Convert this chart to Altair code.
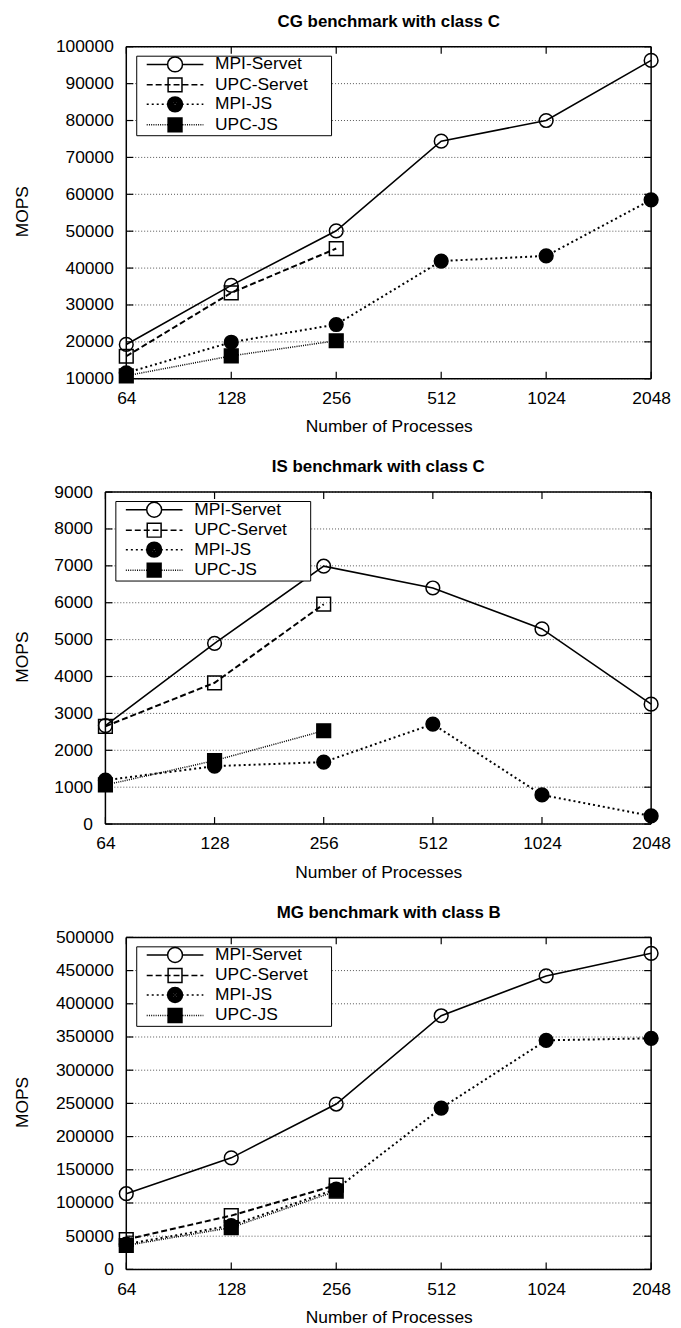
import altair as alt
import pandas as pd

PROCS = [64, 128, 256, 512, 1024, 2048]
SERIES = ["MPI-Servet", "UPC-Servet", "MPI-JS", "UPC-JS"]

# CG benchmark with class C
CG_MPI_SERVET = [19300, 35300, 50100, 74400, 80000, 96300]
CG_UPC_SERVET = [16100, 33300, 45300]
CG_MPI_JS = [11600, 19900, 24700, 41900, 43300, 58500]
CG_UPC_JS = [10800, 16200, 20300]
CG_YTICKS = [10000, 20000, 30000, 40000, 50000, 60000, 70000, 80000, 90000, 100000]

# IS benchmark with class C
IS_MPI_SERVET = [2670, 4900, 6990, 6400, 5290, 3250]
IS_UPC_SERVET = [2650, 3830, 5960]
IS_MPI_JS = [1190, 1570, 1680, 2710, 790, 220]
IS_UPC_JS = [1060, 1720, 2530]
IS_YTICKS = [0, 1000, 2000, 3000, 4000, 5000, 6000, 7000, 8000, 9000]

# MG benchmark with class B
MG_MPI_SERVET = [114000, 168000, 249000, 382000, 442000, 476000]
MG_UPC_SERVET = [45000, 81000, 127000]
MG_MPI_JS = [38000, 66000, 121000, 243000, 345000, 348000]
MG_UPC_JS = [36000, 63000, 118000]
MG_YTICKS = [0, 50000, 100000, 150000, 200000, 250000, 300000, 350000, 400000, 450000, 500000]

FONT = "Liberation Sans"
FS = 17.5
H = 334
W = 528

LINE_STYLE = {
    "MPI-Servet": dict(strokeWidth=1.6),
    "UPC-Servet": dict(strokeWidth=2, strokeDash=[6, 3]),
    "MPI-JS": dict(strokeWidth=2, strokeDash=[2, 3]),
    "UPC-JS": dict(strokeWidth=1.5, strokeDash=[1, 1.2]),
}


def long_df(vals):
    rows = []
    for name, v in zip(SERIES, vals):
        for p, m in zip(PROCS, v):
            rows.append({"procs": p, "series": name, "mops": m})
    return pd.DataFrame(rows)


# ---- legend symbol paths (1 unit = 7.5 px) ----
def dashes(x0, x1, on, off, skip=None):
    parts = []
    x = x0
    while x < x1 - 1e-9:
        e = min(x + on, x1)
        segs = [(x, e)]
        if skip is not None:
            segs = []
            if x < skip[0]:
                segs.append((x, min(e, skip[0])))
            if e > skip[1]:
                segs.append((max(x, skip[1]), e))
        for a, b in segs:
            if b - a > 1e-6:
                parts.append(f"M{a:.3f},0L{b:.3f},0")
        x += on + off
    return "".join(parts)


def circle(r):
    return f"M{r:.3f},0A{r:.3f},{r:.3f},0,1,1,{-r:.3f},0A{r:.3f},{r:.3f},0,1,1,{r:.3f},0Z"


def square(h):
    return f"M{-h:.3f},{-h:.3f}L{h:.3f},{-h:.3f}L{h:.3f},{h:.3f}L{-h:.3f},{h:.3f}Z"


L = 3.8
OPEN_C = circle(1.0)
FULL_C = "".join(circle(r) for r in [1.0, 0.8, 0.6, 0.4, 0.2, 0.05])
OPEN_S = square(0.93)
FULL_S = "".join(square(h) for h in [0.93, 0.73, 0.53, 0.33, 0.13, 0.02])
WIDEN = "M20.4,0"  # move-to only: widens the legend box to the right
LEGEND_PATHS = [
    dashes(-L, L, 2 * L, 1, skip=(-1, 1)) + OPEN_C + WIDEN,
    dashes(-L, L, 0.8, 0.4) + OPEN_S + WIDEN,
    dashes(-L, L, 0.27, 0.4) + FULL_C + WIDEN,
    dashes(-L, L, 0.13, 0.17) + FULL_S + WIDEN,
]


def panel(title, vals, ydomain, yticks, extra):
    df = long_df(vals)
    x0 = -extra
    xscale = alt.Scale(type="log", base=2, domain=[64, 2048], range=[x0, W], nice=False)
    yscale = alt.Scale(domain=ydomain, nice=False, zero=False)
    x = alt.X(
        "procs:Q",
        scale=xscale,
        axis=alt.Axis(
            title="Number of Processes",
            values=PROCS,
            format="d",
            ticks=False,
            domain=False,
            grid=False,
            labelFlush=False,
            labelOverlap=False,
            labelPadding=11,
            titlePadding=11,
        ),
    )
    y = alt.Y(
        "mops:Q",
        scale=yscale,
        axis=alt.Axis(
            title=None,
            values=yticks,
            format="d",
            ticks=False,
            domain=False,
            grid=False,
            labelPadding=13,
            offset=extra,
        ),
    )
    base = alt.Chart(df)
    yt = pd.DataFrame({"mops": yticks})
    xt = pd.DataFrame({"procs": PROCS})
    frame = pd.DataFrame({"f": [0]})

    grid = alt.Chart(yt).mark_rule(color="#555555", strokeWidth=1, strokeDash=[1, 2]).encode(
        y=y, x=alt.value(x0), x2=alt.value(W)
    )
    layers = [grid]
    for s in SERIES:
        layers.append(
            base.transform_filter(alt.datum.series == s)
            .mark_line(color="black", **LINE_STYLE[s])
            .encode(x=x, y=y)
        )
    tick_kw = dict(color="black", strokeWidth=1.2)
    layers += [
        alt.Chart(xt).mark_rule(**tick_kw).encode(x=x, y=alt.value(H), y2=alt.value(H - 7)),
        alt.Chart(xt).mark_rule(**tick_kw).encode(x=x, y=alt.value(0), y2=alt.value(7)),
        alt.Chart(yt).mark_rule(**tick_kw).encode(y=y, x=alt.value(x0), x2=alt.value(x0 + 7)),
        alt.Chart(yt).mark_rule(**tick_kw).encode(y=y, x=alt.value(W - 7), x2=alt.value(W)),
    ]
    # plot frame
    fkw = dict(color="black", strokeWidth=1.5)
    layers += [
        alt.Chart(frame).mark_rule(**fkw).encode(x=alt.value(x0), x2=alt.value(W), y=alt.value(0)),
        alt.Chart(frame).mark_rule(**fkw).encode(x=alt.value(x0), x2=alt.value(W), y=alt.value(H)),
        alt.Chart(frame).mark_rule(**fkw).encode(x=alt.value(x0), y=alt.value(0), y2=alt.value(H)),
        alt.Chart(frame).mark_rule(**fkw).encode(x=alt.value(W), y=alt.value(0), y2=alt.value(H)),
    ]
    points = base.mark_point(opacity=1, size=190, strokeWidth=1.5, color="black").encode(
        x=x,
        y=y,
        shape=alt.Shape(
            "series:N",
            scale=alt.Scale(domain=SERIES, range=["circle", "square", "circle", "square"]),
            legend=None,
        ),
        fill=alt.Fill(
            "series:N",
            scale=alt.Scale(domain=SERIES, range=["transparent", "transparent", "black", "black"]),
            legend=None,
        ),
    )
    # legend-only layer: no rows drawn, the legend comes from the explicit scale domain
    legend_layer = (
        base.transform_filter("datum.mops < -1")
        .mark_point(opacity=0, filled=False, color="black")
        .encode(
            x=x,
            y=y,
            shape=alt.Shape(
                "series:N",
                scale=alt.Scale(domain=SERIES, range=LEGEND_PATHS),
                legend=alt.Legend(
                    title=None,
                    orient="none",
                    legendX=x0 + 10,
                    legendY=9,
                    direction="vertical",
                    fillColor="white",
                    strokeColor="black",
                    padding=0,
                    symbolSize=225,
                    symbolStrokeWidth=1.5,
                    symbolStrokeColor="black",
                    symbolFillColor="transparent",
                    symbolOpacity=1,
                    symbolOffset=30.3,
                    labelOffset=31.5,
                    rowPadding=-1.4,
                    labelFont=FONT,
                    labelFontSize=FS,
                    labelColor="black",
                ),
            ),
        )
    )
    ytitle = (
        alt.Chart(pd.DataFrame({"t": ["MOPS"]}))
        .mark_text(angle=270, font=FONT, fontSize=FS, color="black", align="center", baseline="middle")
        .encode(text="t:N", x=alt.value(-104), y=alt.value(H / 2 - 1))
    )
    layers += [points, legend_layer, ytitle]
    return (
        alt.layer(*layers)
        .resolve_scale(shape="independent")
        .properties(
            width=W,
            height=H,
            title=alt.TitleParams(
                text=title,
                font=FONT,
                fontSize=17,
                fontWeight="bold",
                color="black",
                anchor="middle",
                frame="group",
                offset=7,
                dx=-extra / 2,
            ),
        )
    )


cg = panel(
    "CG benchmark with class C",
    [CG_MPI_SERVET, CG_UPC_SERVET, CG_MPI_JS, CG_UPC_JS],
    [10000, 100000],
    CG_YTICKS,
    0,
)
is_ = panel(
    "IS benchmark with class C",
    [IS_MPI_SERVET, IS_UPC_SERVET, IS_MPI_JS, IS_UPC_JS],
    [0, 9000],
    IS_YTICKS,
    21,
)
mg = panel(
    "MG benchmark with class B",
    [MG_MPI_SERVET, MG_UPC_SERVET, MG_MPI_JS, MG_UPC_JS],
    [0, 500000],
    MG_YTICKS,
    0,
)

chart = (
    alt.vconcat(cg, is_, mg, spacing=114, bounds="flush")
    .properties(padding={"left": 5, "top": 0, "right": 0, "bottom": 0})
    .configure(background="white")
    .configure_view(stroke="transparent")
    .configure_axis(
        labelFont=FONT,
        labelFontSize=FS,
        labelColor="black",
        titleFont=FONT,
        titleFontSize=FS,
        titleFontWeight="normal",
        titleColor="black",
    )
)

chart.save("out.html", embed_options={"renderer": "svg", "actions": False})
